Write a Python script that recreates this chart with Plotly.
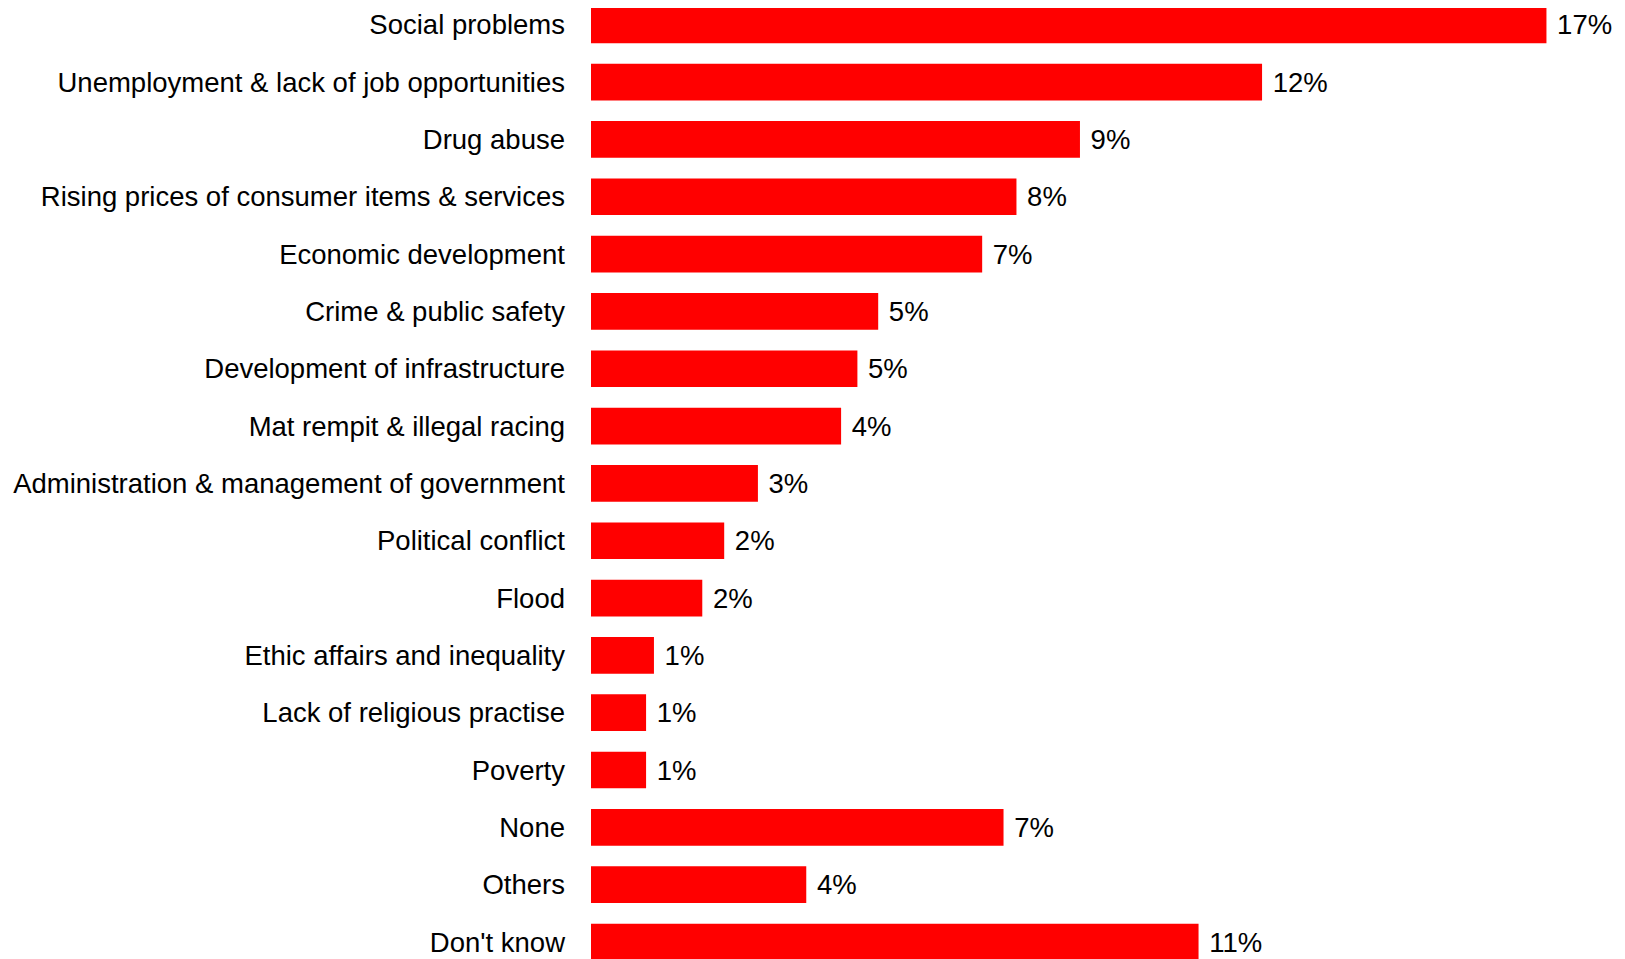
import plotly.graph_objects as go

categories = [
    "Social problems",
    "Unemployment & lack of job opportunities",
    "Drug abuse",
    "Rising prices of consumer items & services",
    "Economic development",
    "Crime & public safety",
    "Development of infrastructure",
    "Mat rempit & illegal racing",
    "Administration & management of government",
    "Political conflict",
    "Flood",
    "Ethic affairs and inequality",
    "Lack of religious practise",
    "Poverty",
    "None",
    "Others",
    "Don't know",
]
values = [17.0, 11.94, 8.70, 7.57, 6.96, 5.11, 4.74, 4.45, 2.97, 2.37, 1.98,
          1.12, 0.98, 0.98, 7.34, 3.83, 10.81]

FONT = "Liberation Sans, Arial, sans-serif"
FSIZE = 27.5

fig = go.Figure(go.Bar(
    x=values,
    y=categories,
    orientation="h",
    marker=dict(color="#ff0000", line=dict(width=0)),
    width=0.64,
    texttemplate=" %{x:.0f}%",
    textposition="outside",
    textfont=dict(family=FONT, size=FSIZE, color="#000000"),
    cliponaxis=False,
))

fig.update_layout(
    width=1625,
    height=959,
    margin=dict(l=583, r=0, t=0, b=0, autoexpand=False),
    paper_bgcolor="white",
    plot_bgcolor="white",
    showlegend=False,
    font=dict(family=FONT, size=FSIZE, color="#000000"),
    xaxis=dict(range=[0, 18.54], visible=False, showgrid=False, zeroline=False),
    yaxis=dict(
        range=[16.436, -0.293],
        automargin=False,
        showgrid=False,
        zeroline=False,
        showline=False,
        ticks="",
        ticklabelstandoff=25,
        tickfont=dict(family=FONT, size=FSIZE, color="#000000"),
    ),
)

fig.write_html("out.html")
